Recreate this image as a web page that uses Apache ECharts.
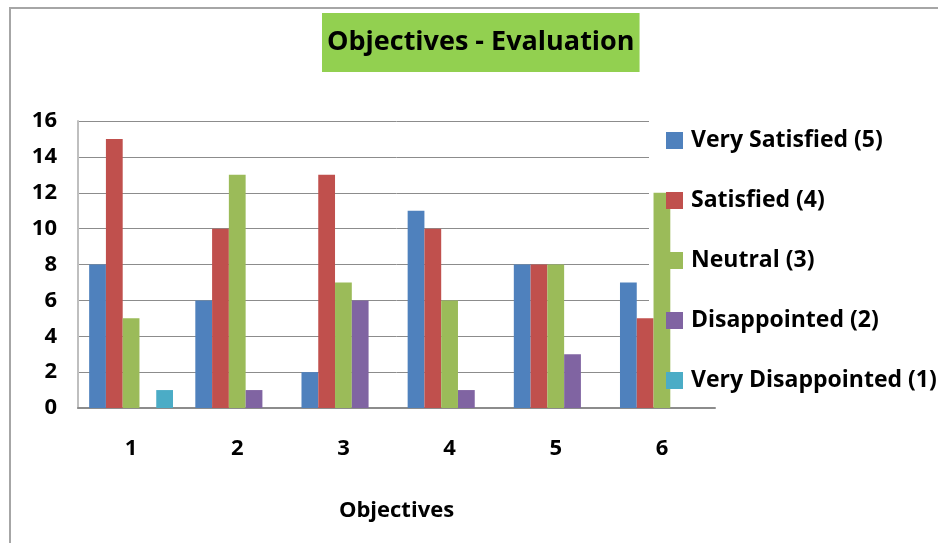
<!DOCTYPE html>
<html>
<head>
<meta charset="utf-8">
<script src="https://cdn.jsdelivr.net/npm/echarts@6/dist/echarts.min.js"></script>
<style>
  html, body { margin: 0; padding: 0; background: #ffffff; }
  #chart { width: 938px; height: 543px; }
</style>
</head>
<body>
<div id="chart"></div>
<script>
// Survey results per objective, counts of answers in each rating band
const categories = ['1', '2', '3', '4', '5', '6'];
const verySatisfied = [8, 6, 2, 11, 8, 7];
const satisfied = [15, 10, 13, 10, 8, 5];
const neutral = [5, 13, 7, 6, 8, 12];
const disappointed = [0, 1, 6, 1, 3, 0];
const veryDisappointed = [1, 0, 0, 0, 0, 0];
const seriesNames = ['Very Satisfied (5)', 'Satisfied (4)', 'Neutral (3)', 'Disappointed (2)', 'Very Disappointed (1)'];
const yTicks = [0, 2, 4, 6, 8, 10, 12, 14, 16];

const palette = ['#4F81BD', '#C0504D', '#9BBB59', '#8064A2', '#4BACC6'];
const fontFamily = '"Open Sans", Lato, sans-serif';
const values = [verySatisfied, satisfied, neutral, disappointed, veryDisappointed];

const chart = echarts.init(document.getElementById('chart'), null, { renderer: 'canvas' });

chart.setOption({
  animation: false,
  color: palette,
  title: {
    text: 'Objectives - Evaluation',
    left: 322,
    top: 13,
    backgroundColor: '#92D050',
    padding: [13, 5, 13, 5],
    textStyle: { fontFamily, fontWeight: 'bold', fontSize: 27, lineHeight: 33, color: '#000' }
  },
  graphic: [
    // outer frame edges
    { type: 'rect', z: 10, shape: { x: 9, y: 7, width: 929, height: 2 }, style: { fill: '#a6a6a6' } },
    { type: 'rect', z: 10, shape: { x: 9, y: 7, width: 2, height: 536 }, style: { fill: '#a6a6a6' } },
    // legend backdrop hides the gridlines behind it
    { type: 'rect', z: 1, shape: { x: 649, y: 100, width: 289, height: 290 }, style: { fill: '#ffffff' } }
  ],
  legend: {
    orient: 'vertical',
    left: 666,
    top: 129,
    padding: 0,
    itemWidth: 17,
    itemHeight: 17,
    itemGap: 37,
    icon: 'rect',
    z: 5,
    textStyle: { fontFamily, fontWeight: 'bold', fontSize: 23, lineHeight: 23, color: '#000', padding: [0, 0, 0, 3] },
    data: seriesNames
  },
  grid: { left: 78, right: 223, top: 121, bottom: 135 },
  xAxis: {
    type: 'category',
    data: categories,
    name: 'Objectives',
    nameLocation: 'middle',
    nameGap: 92,
    nameTextStyle: { fontFamily, fontWeight: 'bold', fontSize: 22, color: '#000' },
    axisLine: { lineStyle: { color: '#8c8c8c', width: 2 } },
    axisTick: { show: false },
    axisLabel: { fontFamily, fontWeight: 'bold', fontSize: 22, color: '#000', margin: 30 }
  },
  yAxis: {
    type: 'value',
    min: yTicks[0],
    max: yTicks[yTicks.length - 1],
    interval: yTicks[1] - yTicks[0],
    axisLine: { show: true, lineStyle: { color: '#bfbfbf', width: 2 } },
    axisTick: { show: false },
    splitLine: { lineStyle: { color: '#8c8c8c', width: 1 } },
    axisLabel: { fontFamily, fontWeight: 'bold', fontSize: 22, color: '#000', margin: 21 }
  },
  series: seriesNames.map((name, i) => ({
    name,
    type: 'bar',
    z: 2,
    barGap: '0%',
    barCategoryGap: '21%',
    data: values[i]
  }))
});
</script>
</body>
</html>
